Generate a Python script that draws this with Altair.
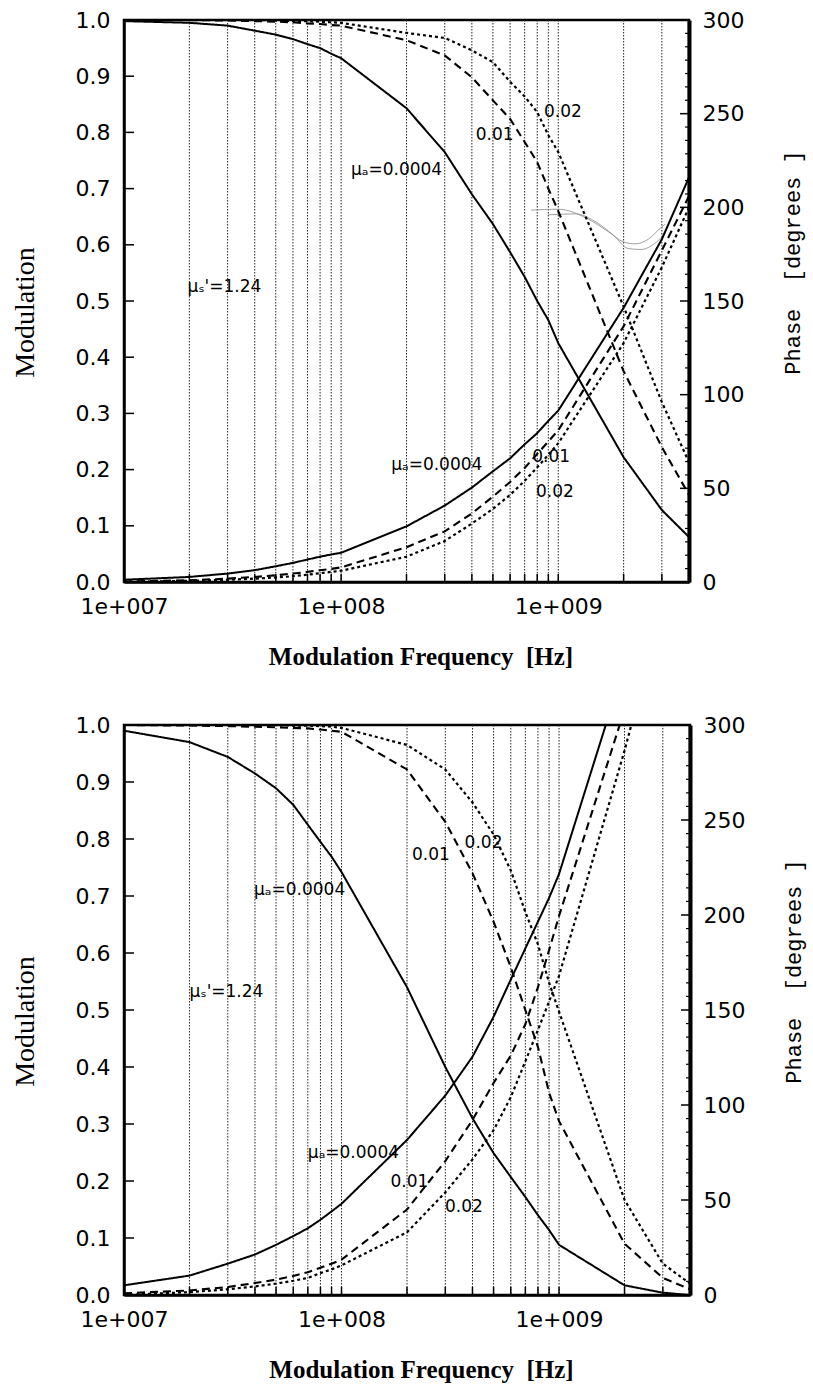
import altair as alt
import pandas as pd

# ---------------- data ----------------
SERIES = ["0.0004", "0.01", "0.02"]

GRID_FREQ = [2e7, 3e7, 4e7, 5e7, 6e7, 7e7, 8e7, 9e7, 1e8,
             2e8, 3e8, 4e8, 5e8, 6e8, 7e8, 8e8, 9e8, 1e9, 2e9, 3e9]
X_TICKS = [1e7, 1e8, 1e9]
MOD_TICKS = [0.0, 0.1, 0.2, 0.3, 0.4, 0.5, 0.6, 0.7, 0.8, 0.9, 1.0]
PHASE_TICKS = [0, 50, 100, 150, 200, 250, 300]

# computed frequencies (1-9 per decade)
FREQ = [1e7, 2e7, 3e7, 4e7, 5e7, 6e7, 7e7, 8e7, 9e7,
        1e8, 2e8, 3e8, 4e8, 5e8, 6e8, 7e8, 8e8, 9e8,
        1e9, 2e9, 3e9, 4e9]

# ---- upper panel ----
TOP_MOD_0004 = [0.998, 0.995, 0.99, 0.981, 0.974, 0.966, 0.957, 0.95, 0.94,
                0.932, 0.843, 0.765, 0.69, 0.637, 0.587, 0.543, 0.50, 0.466,
                0.425, 0.222, 0.128, 0.08]
TOP_MOD_01 = [1.0, 1.0, 0.999, 0.998, 0.997, 0.996, 0.994, 0.993, 0.991,
              0.99, 0.964, 0.937, 0.898, 0.857, 0.824, 0.783, 0.747, 0.70,
              0.66, 0.375, 0.24, 0.155]
TOP_MOD_02 = [1.0, 1.0, 1.0, 1.0, 0.999, 0.998, 0.998, 0.997, 0.996,
              0.995, 0.977, 0.968, 0.946, 0.925, 0.89, 0.864, 0.836, 0.795,
              0.765, 0.49, 0.32, 0.213]
TOP_PH_0004 = [1.2, 2.7, 4.5, 6.3, 8.4, 10.2, 12, 13.5, 14.7,
               15.6, 29.7, 40.8, 50.4, 59.1, 66, 73.5, 79.5, 86,
               91.5, 146.4, 183, 216]
TOP_PH_01 = [0.3, 0.9, 1.8, 2.7, 3.6, 4.5, 5.4, 6.3, 7,
             7.8, 18.6, 27, 36.6, 45.6, 53.4, 60.9, 68.4, 75,
             81, 136.5, 177, 206]
TOP_PH_02 = [0, 0.6, 1.2, 1.8, 2.4, 3.1, 3.9, 4.7, 5.4,
             6, 13.5, 21.9, 31.2, 39, 46.5, 54, 61.2, 67.8,
             74.1, 127.5, 168, 200]
# faint double trace near 190 degrees in the upper panel
TOP_TRACE_A_F = [7.5e8, 1e9, 1.36e9, 1.7e9, 2e9, 2.25e9, 2.6e9, 2.9e9, 3.1e9]
TOP_TRACE_A = [198.5, 199, 194, 187, 181.5, 180.5, 183, 188, 191]
TOP_TRACE_B_F = [9e8, 1.2e9, 1.5e9, 1.8e9, 2.1e9, 2.4e9, 2.8e9, 3.1e9]
TOP_TRACE_B = [196, 196.5, 192, 185, 178, 177.5, 181, 186]

TOP_LABEL_TEXT = ["μₐ=0.0004", "0.01", "0.02", "μₛ'=1.24", "μₐ=0.0004", "0.01", "0.02"]
TOP_LABEL_F = [1.11e8, 4.17e8, 8.6e8, 1.96e7, 1.7e8, 7.59e8, 7.9e8]
TOP_LABEL_M = [0.733, 0.795, 0.836, 0.525, 0.208, 0.222, 0.16]

# ---- lower panel ----
BOT_MOD_0004 = [0.99, 0.97, 0.944, 0.915, 0.889, 0.86, 0.825, 0.795, 0.769,
                0.742, 0.54, 0.40, 0.31, 0.249, 0.207, 0.172, 0.14, 0.114,
                0.088, 0.017, 0.004, 0.0]
BOT_MOD_01 = [1.0, 0.999, 0.998, 0.997, 0.996, 0.995, 0.994, 0.992, 0.99,
              0.988, 0.922, 0.83, 0.74, 0.655, 0.575, 0.50, 0.435, 0.355,
              0.305, 0.09, 0.03, 0.01]
BOT_MOD_02 = [1.0, 1.0, 1.0, 1.0, 1.0, 0.999, 0.999, 0.998, 0.997,
              0.995, 0.965, 0.922, 0.864, 0.808, 0.745, 0.672, 0.615, 0.548,
              0.497, 0.167, 0.055, 0.02]
BOT_PH_0004_F = FREQ[:19] + [1.64e9]
BOT_PH_0004 = [5.1, 10.2, 16.5, 21.3, 26.4, 31, 35.1, 39.6, 44,
               48, 81.6, 105, 125.4, 146.4, 166, 182.4, 196.5, 209,
               221.6, 300]
BOT_PH_01_F = FREQ[:19] + [1.9e9]
BOT_PH_01 = [0.9, 2.4, 4.2, 6.3, 8.1, 10, 12, 14.4, 16.5,
             18.6, 45, 70.5, 92.1, 111.6, 126, 142.5, 162, 181.5,
             199.5, 300]
BOT_PH_02_F = FREQ[:20] + [2.15e9]
BOT_PH_02 = [0, 1.5, 3, 4.5, 6, 7.5, 9, 11.5, 13.5,
             15.6, 33, 54, 71.4, 86.7, 104.1, 123, 139.5, 154.5,
             168, 286.5, 300]

BOT_LABEL_TEXT = ["μₐ=0.0004", "0.01", "0.02", "μₛ'=1.24", "μₐ=0.0004", "0.01", "0.02"]
BOT_LABEL_F = [3.96e7, 2.11e8, 3.68e8, 2.0e7, 7.0e7, 1.68e8, 2.99e8]
BOT_LABEL_M = [0.711, 0.772, 0.793, 0.532, 0.249, 0.198, 0.154]


# ---------------- helpers ----------------
def long_df(freq_lists, value_lists, names):
    rows = []
    for fs, vs, n in zip(freq_lists, value_lists, names):
        for f, v in zip(fs, vs):
            rows.append({"f": f, "v": v, "s": n})
    return pd.DataFrame(rows)


TICK_FONT = "DejaVu Sans"
minor_phase = [k * 50.0 / 7.0 for k in range(1, 43) if k % 7 != 0]


def panel(w, h, mod_df, ph_df, lab_df, trace_df=None):
    xs = alt.Scale(type="log", domain=[1e7, 4e9], nice=False)
    x_axis = alt.Axis(
        values=X_TICKS,
        labelExpr="datum.value < 5e7 ? '1e+007' : datum.value < 5e8 ? '1e+008' : '1e+009'",
        labelFont=TICK_FONT, labelFontSize=22, labelPadding=14, labelFlush=False,
        labelOverlap=False, ticks=False, grid=False, domainWidth=2.5,
        title="Modulation Frequency\u00a0 [Hz]", titleFont="Liberation Serif",
        titleFontSize=25, titleFontWeight="bold", titleX=w / 2 + 14, titleY=74,
        titleBaseline="middle", titleAlign="center",
    )
    X = alt.X("f:Q", scale=xs, axis=x_axis)
    mod_scale = alt.Scale(domain=[0, 1], nice=False, zero=False)
    ph_scale = alt.Scale(domain=[0, 300], nice=False, zero=False)
    dash = alt.StrokeDash("s:N", scale=alt.Scale(domain=SERIES, range=[[1, 0], [8, 5], [3, 3]]),
                          legend=None)
    width_enc = alt.StrokeWidth("s:N", scale=alt.Scale(domain=SERIES, range=[2.0, 2.2, 2.5]),
                                legend=None)

    grid_df = pd.DataFrame({"f": GRID_FREQ})
    grid = alt.Chart(grid_df).mark_rule(color="#222", strokeWidth=1, strokeDash=[1.5, 1.5]).encode(x=X)
    xticks = alt.Chart(grid_df).mark_rule(color="black", strokeWidth=1.5).encode(
        x=X, y=alt.value(h), y2=alt.value(h - 8))

    lt = alt.Chart(pd.DataFrame({"t": MOD_TICKS})).mark_rule(color="black", strokeWidth=1.5).encode(
        y=alt.Y("t:Q", scale=mod_scale, axis=None), x=alt.value(0), x2=alt.value(10))
    rt = alt.Chart(pd.DataFrame({"t": PHASE_TICKS})).mark_rule(color="black", strokeWidth=1.5).encode(
        y=alt.Y("t:Q", scale=ph_scale, axis=None), x=alt.value(w), x2=alt.value(w - 9))
    rtm = alt.Chart(pd.DataFrame({"t": minor_phase})).mark_rule(color="black", strokeWidth=1.2).encode(
        y=alt.Y("t:Q", scale=ph_scale, axis=None), x=alt.value(w), x2=alt.value(w - 4))

    mod_axis = alt.Axis(
        values=MOD_TICKS, format=".1f", labelFont=TICK_FONT, labelFontSize=22, labelPadding=14,
        ticks=False, grid=False, domainWidth=2.5,
        title="Modulation", titleFont="Liberation Serif", titleFontSize=28, titleFontWeight="normal",
        titleX=-99, titleY=h / 2 + 11, titleAngle=270, titleAlign="center", titleBaseline="middle",
    )
    ph_axis = alt.Axis(
        orient="right", values=PHASE_TICKS, format="d", labelFont=TICK_FONT, labelFontSize=22,
        labelPadding=13, ticks=False, grid=False, domainWidth=4,
        title="Phase\u00a0 [degrees ]", titleFont="Liberation Mono", titleFontSize=22,
        titleFontWeight="normal", titleX=103, titleY=h / 2 - 39, titleAngle=270,
        titleAlign="center", titleBaseline="middle",
    )

    modl = alt.Chart(mod_df).mark_line(color="black").encode(
        x=X, y=alt.Y("v:Q", scale=mod_scale, axis=mod_axis), strokeDash=dash,
        strokeWidth=width_enc, detail="s:N")
    phl = alt.Chart(ph_df).mark_line(color="black").encode(
        x=X, y=alt.Y("v:Q", scale=ph_scale, axis=ph_axis), strokeDash=dash,
        strokeWidth=width_enc, detail="s:N")
    txt = alt.Chart(lab_df).mark_text(align="left", baseline="middle", font=TICK_FONT,
                                      fontSize=17, color="black").encode(
        x=X, y=alt.Y("v:Q", scale=mod_scale, axis=None), text="t:N")

    layers = [grid, xticks, lt, rt, rtm]
    if trace_df is not None:
        layers.append(alt.Chart(trace_df).mark_line(color="#888", strokeWidth=0.8,
                                                    interpolate="monotone").encode(
            x=X, y=alt.Y("v:Q", scale=ph_scale, axis=None), detail="s:N"))
    layers += [modl, phl, txt]
    return alt.layer(*layers).resolve_scale(y="independent").properties(width=w, height=h)


top_mod = long_df([FREQ] * 3, [TOP_MOD_0004, TOP_MOD_01, TOP_MOD_02], SERIES)
top_ph = long_df([FREQ] * 3, [TOP_PH_0004, TOP_PH_01, TOP_PH_02], SERIES)
top_lab = pd.DataFrame({"f": TOP_LABEL_F, "v": TOP_LABEL_M, "t": TOP_LABEL_TEXT})
top_trace = long_df([TOP_TRACE_A_F, TOP_TRACE_B_F], [TOP_TRACE_A, TOP_TRACE_B], ["a", "b"])

bot_mod = long_df([FREQ] * 3, [BOT_MOD_0004, BOT_MOD_01, BOT_MOD_02], SERIES)
bot_ph = long_df([BOT_PH_0004_F, BOT_PH_01_F, BOT_PH_02_F], [BOT_PH_0004, BOT_PH_01, BOT_PH_02], SERIES)
bot_lab = pd.DataFrame({"f": BOT_LABEL_F, "v": BOT_LABEL_M, "t": BOT_LABEL_TEXT})

top = panel(565, 562, top_mod, top_ph, top_lab, top_trace)
bot = panel(566, 570, bot_mod, bot_ph, bot_lab)

chart = (
    alt.vconcat(top, bot, spacing=41)
    .properties(padding={"left": 9, "top": 7, "right": 5, "bottom": 2}, background="white")
    .configure_view(stroke="black", strokeWidth=2.5)
    .configure_axis(labelColor="black", titleColor="black", domainColor="black")
)

chart.save("out.html", embed_options={"renderer": "svg", "actions": False})
